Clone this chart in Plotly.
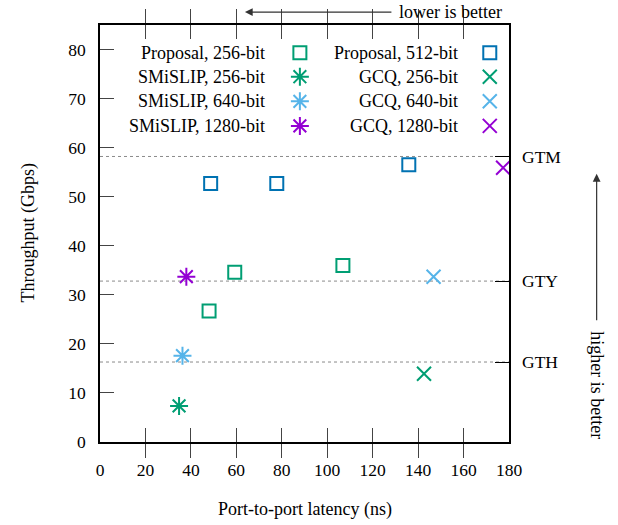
import plotly.graph_objects as go

# ---- data ----
prop256_x = [48.0, 59.3, 106.9]
prop256_y = [26.7, 34.6, 36.0]
prop512_x = [48.7, 77.8, 135.9]
prop512_y = [52.7, 52.7, 56.5]
smi256_x = [34.8]; smi256_y = [7.35]
smi640_x = [36.3]; smi640_y = [17.6]
smi1280_x = [38.0]; smi1280_y = [33.7]
gcq256_x = [142.6]; gcq256_y = [13.9]
gcq640_x = [146.8]; gcq640_y = [33.7]
gcq1280_x = [177.4]; gcq1280_y = [55.9]

ref_names = ["GTM", "GTY", "GTH"]
ref_vals = [58.2, 32.8, 16.3]

x_ticks = [0, 20, 40, 60, 80, 100, 120, 140, 160, 180]
y_ticks = [0, 10, 20, 30, 40, 50, 60, 70, 80]

GREEN = "#009e73"
LBLUE = "#56b4e9"
VIOLET = "#9400d3"
BLUE = "#0072b2"
FONT = "Liberation Serif"
FS = 18
TFS = 17.5

series = [
    ("Proposal, 256-bit", prop256_x, prop256_y, "square-open", GREEN, 13),
    ("SMiSLIP, 256-bit", smi256_x, smi256_y, "asterisk-open", GREEN, 15),
    ("SMiSLIP, 640-bit", smi640_x, smi640_y, "asterisk-open", LBLUE, 15),
    ("SMiSLIP, 1280-bit", smi1280_x, smi1280_y, "asterisk-open", VIOLET, 15),
    ("Proposal, 512-bit", prop512_x, prop512_y, "square-open", BLUE, 13),
    ("GCQ, 256-bit", gcq256_x, gcq256_y, "x-thin-open", GREEN, 14),
    ("GCQ, 640-bit", gcq640_x, gcq640_y, "x-thin-open", LBLUE, 14),
    ("GCQ, 1280-bit", gcq1280_x, gcq1280_y, "x-thin-open", VIOLET, 14),
]

# legend layout (paper coords of plot area)
leg_marker_x = [0.4887, 0.4887, 0.4887, 0.4887, 0.953, 0.953, 0.953, 0.953]
leg_text_x = [0.4073, 0.4073, 0.4073, 0.4073, 0.8795, 0.8795, 0.8795, 0.8795]
leg_y = [0.9336, 0.876, 0.817, 0.758, 0.9336, 0.876, 0.817, 0.758]

fig = go.Figure()
annotations = []
for i, (name, xs, ys, sym, col, sz) in enumerate(series):
    fig.add_trace(go.Scatter(
        x=xs, y=ys, mode="markers", name=name, showlegend=False,
        marker=dict(symbol=sym, size=sz, color=col, line=dict(color=col, width=2)),
    ))
    fig.add_trace(go.Scatter(
        x=[leg_marker_x[i]], y=[leg_y[i]], xaxis="x3", yaxis="y3",
        mode="markers", showlegend=False, hoverinfo="skip",
        marker=dict(symbol=sym, size=sz, color=col, line=dict(color=col, width=2)),
    ))
    annotations.append(dict(
        x=leg_text_x[i], y=leg_y[i], xref="paper", yref="paper",
        text=name, showarrow=False, xanchor="right", yanchor="middle",
        font=dict(family=FONT, size=FS, color="black"),
    ))

# dummy trace for right axis
fig.add_trace(go.Scatter(x=[None], y=[None], yaxis="y2", showlegend=False))

shapes = []
for v in ref_vals:
    shapes.append(dict(type="line", xref="paper", yref="y", x0=0, x1=1, y0=v, y1=v,
                       line=dict(color="#8a8a8a", width=1, dash="dot"), layer="below"))

# axis titles
annotations.append(dict(x=0.5, y=-0.163, xref="paper", yref="paper", showarrow=False,
                        text="Port-to-port latency (ns)", xanchor="center", yanchor="middle",
                        font=dict(family=FONT, size=FS, color="black")))
annotations.append(dict(x=-0.176, y=0.5, xref="paper", yref="paper", showarrow=False,
                        text="Throughput (Gbps)", textangle=-90, xanchor="center", yanchor="middle",
                        font=dict(family=FONT, size=FS, color="black")))
# lower is better
annotations.append(dict(x=0.9885, y=1.031, xref="paper", yref="paper", showarrow=False,
                        text="lower is better", xanchor="right", yanchor="middle",
                        font=dict(family=FONT, size=FS, color="black")))
annotations.append(dict(x=0.3543, y=1.031, xref="paper", yref="paper", showarrow=True,
                        text="", ax=148, ay=0, axref="pixel", ayref="pixel",
                        arrowhead=2, arrowsize=1.3, arrowwidth=1.2, arrowcolor="#333"))
# higher is better
annotations.append(dict(x=1.2143, y=0.643, xref="paper", yref="paper", showarrow=True,
                        text="", ax=0, ay=148, axref="pixel", ayref="pixel",
                        arrowhead=2, arrowsize=1.3, arrowwidth=1.2, arrowcolor="#333"))
annotations.append(dict(x=1.2143, y=0.1367, xref="paper", yref="paper", showarrow=False,
                        text="higher is better", textangle=90, xanchor="center", yanchor="middle",
                        font=dict(family=FONT, size=FS, color="black")))

fig.update_layout(
    width=618, height=525,
    margin=dict(l=100, r=109, t=25, b=83, autoexpand=False),
    paper_bgcolor="white", plot_bgcolor="white",
    font=dict(family=FONT, size=TFS, color="black"),
    showlegend=False,
    xaxis=dict(range=[0, 180], tickvals=x_ticks, ticks="inside", ticklen=14,
               tickcolor="#444", showgrid=False, zeroline=False, showline=True,
               linecolor="black", linewidth=1.5, mirror="allticks",
               ticklabelstandoff=11, tickfont=dict(family=FONT, size=TFS)),
    yaxis=dict(range=[0, 85], tickvals=y_ticks, ticks="inside", ticklen=14,
               tickcolor="#444", showgrid=False, zeroline=False, showline=True,
               linecolor="black", linewidth=1.5, mirror=True,
               ticklabelstandoff=9, tickfont=dict(family=FONT, size=TFS)),
    yaxis2=dict(range=[0, 85], overlaying="y", side="right", tickvals=ref_vals,
                ticktext=ref_names, ticks="inside", ticklen=14, tickcolor="black",
                showgrid=False, zeroline=False, showline=False,
                ticklabelstandoff=12, tickfont=dict(family=FONT, size=TFS)),
    xaxis3=dict(range=[0, 1], overlaying="x", visible=False),
    yaxis3=dict(range=[0, 1], overlaying="y", visible=False),
    shapes=shapes,
    annotations=annotations,
)

fig.write_html("out.html", config={"displayModeBar": False},
               post_script="document.body.style.margin='0';")
